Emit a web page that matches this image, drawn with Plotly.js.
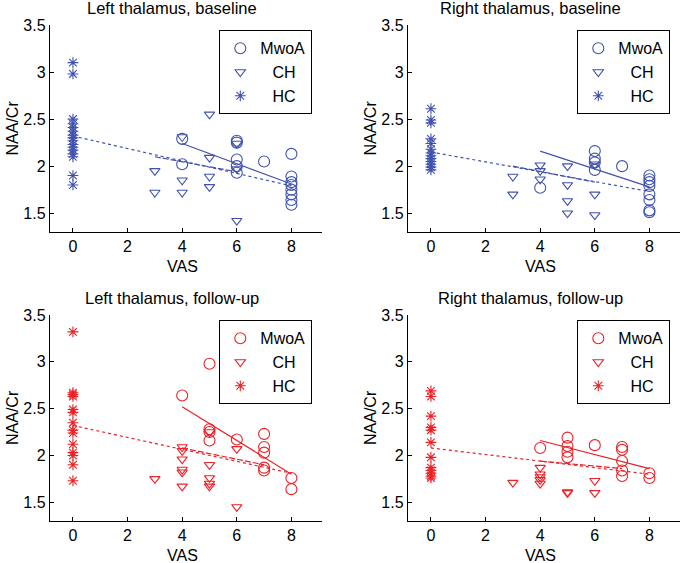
<!DOCTYPE html>
<html>
<head>
<meta charset="utf-8">
<script src="https://cdn.plot.ly/plotly-3.0.1.min.js"></script>
<style>html,body{margin:0;padding:0;background:#fff;}#chart{width:683px;height:563px;}</style>
</head>
<body>
<div id="chart"></div>
<script>
// ---------- data ----------
const vasTicks = [0, 2, 4, 6, 8];
const naaTicks = [1.5, 2, 2.5, 3, 3.5];
const groupNames = ['MwoA', 'CH', 'HC'];
const panelTitles = ['Left thalamus, baseline', 'Right thalamus, baseline', 'Left thalamus, follow-up', 'Right thalamus, follow-up'];

// Left thalamus, baseline
const lbMwoaX = [4, 4, 6, 6, 6, 6, 6, 7, 8, 8, 8, 8, 8, 8, 8, 8];
const lbMwoaY = [2.29, 2.02, 2.27, 2.25, 2.07, 2.00, 1.93, 2.05, 2.13, 1.89, 1.83, 1.80, 1.75, 1.70, 1.64, 1.59];
const lbChX = [3, 3, 4, 4, 4, 5, 5, 5, 5, 6, 6, 6];
const lbChY = [1.95, 1.72, 2.31, 1.85, 1.72, 2.55, 2.09, 1.89, 1.78, 2.24, 1.97, 1.42];
const lbHcX = [0, 0, 0, 0, 0, 0, 0, 0, 0, 0, 0, 0, 0, 0, 0, 0];
const lbHcY = [3.10, 2.98, 2.50, 2.45, 2.41, 2.37, 2.33, 2.30, 2.27, 2.23, 2.20, 2.17, 2.13, 2.10, 1.90, 1.80];
const lbFitAllX = [0, 8], lbFitAllY = [2.32, 1.79];
const lbFitMwoaX = [4, 8], lbFitMwoaY = [2.24, 1.81];
const lbFitChX = [3, 6], lbFitChY = [2.10, 1.94];

// Right thalamus, baseline
const rbMwoaX = [4, 6, 6, 6, 6, 7, 8, 8, 8, 8, 8, 8, 8, 8];
const rbMwoaY = [1.77, 2.16, 2.08, 2.04, 1.96, 2.00, 1.90, 1.86, 1.83, 1.79, 1.70, 1.64, 1.53, 1.51];
const rbChX = [3, 3, 4, 4, 4, 5, 5, 5, 5, 6, 6, 6];
const rbChY = [1.89, 1.70, 2.01, 1.95, 1.86, 2.00, 1.80, 1.63, 1.50, 2.02, 1.70, 1.48];
const rbHcX = [0, 0, 0, 0, 0, 0, 0, 0, 0, 0, 0, 0, 0];
const rbHcY = [2.61, 2.49, 2.46, 2.29, 2.24, 2.18, 2.14, 2.11, 2.08, 2.05, 2.02, 1.99, 1.96];
const rbFitAllX = [0, 8], rbFitAllY = [2.15, 1.73];
const rbFitMwoaX = [4, 8], rbFitMwoaY = [2.16, 1.78];
const rbFitChX = [3, 6], rbFitChY = [2.00, 1.83];

// Left thalamus, follow-up
const lfMwoaX = [4, 5, 5, 5, 5, 6, 7, 7, 7, 7, 7, 8, 8];
const lfMwoaY = [2.64, 2.98, 2.28, 2.25, 2.16, 2.17, 2.23, 2.09, 2.03, 1.87, 1.84, 1.76, 1.64];
const lfChX = [3, 4, 4, 4, 4, 4, 4, 5, 5, 5, 5, 5, 6, 6];
const lfChY = [1.75, 2.09, 2.05, 1.96, 1.85, 1.82, 1.67, 2.25, 1.90, 1.76, 1.70, 1.67, 2.07, 1.45];
const lfHcX = [0, 0, 0, 0, 0, 0, 0, 0, 0, 0, 0, 0, 0, 0];
const lfHcY = [3.32, 2.67, 2.65, 2.63, 2.49, 2.46, 2.35, 2.27, 2.24, 2.12, 2.03, 2.00, 1.90, 1.73];
const lfFitAllX = [0, 8], lfFitAllY = [2.32, 1.81];
const lfFitMwoaX = [4, 8], lfFitMwoaY = [2.52, 1.80];
const lfFitChX = [4, 7], lfFitChY = [2.08, 1.90];

// Right thalamus, follow-up
const rfMwoaX = [4, 5, 5, 5, 5, 6, 7, 7, 7, 7, 7, 8, 8];
const rfMwoaY = [2.08, 2.19, 2.10, 2.04, 1.98, 2.11, 2.09, 2.06, 1.94, 1.84, 1.78, 1.81, 1.76];
const rfChX = [3, 4, 4, 4, 4, 4, 5, 5, 6, 6];
const rfChY = [1.71, 1.87, 1.80, 1.77, 1.74, 1.70, 1.61, 1.60, 1.73, 1.60];
const rfHcX = [0, 0, 0, 0, 0, 0, 0, 0, 0, 0, 0, 0];
const rfHcY = [2.69, 2.63, 2.42, 2.30, 2.27, 2.14, 1.98, 1.87, 1.84, 1.81, 1.78, 1.76];
const rfFitAllX = [0, 8], rfFitAllY = [2.08, 1.80];
const rfFitMwoaX = [4, 8], rfFitMwoaY = [2.16, 1.86];
const rfFitChX = [4, 7], rfFitChY = [1.94, 1.86];

// ---------- build ----------
const BLUE = '#4052ad';
const RED = '#ec2026';
const FONT = 'Liberation Sans, Arial, sans-serif';
// legend labels are centred in the reference box: pad the short ones
const legendPad = ['', '\u00A0\u00A0\u2009', '\u00A0\u00A0\u2009'];

const panels = [
  {ax: '', color: BLUE, mx: lbMwoaX, my: lbMwoaY, cx: lbChX, cy: lbChY, hx: lbHcX, hy: lbHcY,
   fa: [lbFitAllX, lbFitAllY], fm: [lbFitMwoaX, lbFitMwoaY], fc: [lbFitChX, lbFitChY]},
  {ax: '2', color: BLUE, mx: rbMwoaX, my: rbMwoaY, cx: rbChX, cy: rbChY, hx: rbHcX, hy: rbHcY,
   fa: [rbFitAllX, rbFitAllY], fm: [rbFitMwoaX, rbFitMwoaY], fc: [rbFitChX, rbFitChY]},
  {ax: '3', color: RED, mx: lfMwoaX, my: lfMwoaY, cx: lfChX, cy: lfChY, hx: lfHcX, hy: lfHcY,
   fa: [lfFitAllX, lfFitAllY], fm: [lfFitMwoaX, lfFitMwoaY], fc: [lfFitChX, lfFitChY]},
  {ax: '4', color: RED, mx: rfMwoaX, my: rfMwoaY, cx: rfChX, cy: rfChY, hx: rfHcX, hy: rfHcY,
   fa: [rfFitAllX, rfFitAllY], fm: [rfFitMwoaX, rfFitMwoaY], fc: [rfFitChX, rfFitChY]}
];

const W = 683, H = 563;
// pixel boxes of each plot area [left, right, top, bottom]
const boxes = [[50, 322, 25, 232], [408, 680, 25, 232], [50, 322, 315, 521], [408, 680, 315, 521]];

const traces = [];
const layout = {
  width: W, height: H,
  margin: {l: 0, r: 0, t: 0, b: 0},
  paper_bgcolor: '#fff', plot_bgcolor: '#fff',
  font: {family: FONT, size: 16, color: '#000'},
  showlegend: true,
  annotations: []
};

panels.forEach((p, i) => {
  const xa = 'x' + p.ax, ya = 'y' + p.ax;
  const lg = i === 0 ? 'legend' : 'legend' + (i + 1);
  const b = boxes[i];
  const common = {xaxis: xa, yaxis: ya, hoverinfo: 'x+y'};
  // fit lines
  traces.push(Object.assign({type: 'scatter', mode: 'lines', x: p.fa[0], y: p.fa[1], showlegend: false,
    line: {color: p.color, width: 1.2, dash: 'dot'}}, common));
  traces.push(Object.assign({type: 'scatter', mode: 'lines', x: p.fm[0], y: p.fm[1], showlegend: false,
    line: {color: p.color, width: 1.2}}, common));
  traces.push(Object.assign({type: 'scatter', mode: 'lines', x: p.fc[0], y: p.fc[1], showlegend: false,
    line: {color: p.color, width: 1.2, dash: '6px,2px'}}, common));
  // markers
  traces.push(Object.assign({type: 'scatter', mode: 'markers', name: legendPad[0] + groupNames[0], legend: lg, x: p.mx, y: p.my,
    marker: {symbol: 'circle-open', size: 11, color: p.color, line: {color: p.color, width: 1.1}}}, common));
  traces.push(Object.assign({type: 'scatter', mode: 'markers', name: legendPad[1] + groupNames[1], legend: lg, x: p.cx, y: p.cy,
    marker: {symbol: 'triangle-down-open', size: 9, color: p.color, line: {color: p.color, width: 1.1}}}, common));
  traces.push(Object.assign({type: 'scatter', mode: 'markers', name: legendPad[2] + groupNames[2], legend: lg, x: p.hx, y: p.hy,
    marker: {symbol: 'asterisk-open', size: 9, color: p.color, line: {color: p.color, width: 1.1}}}, common));

  const axKey = p.ax;
  layout['xaxis' + axKey] = {
    domain: [b[0] / W, b[1] / W], anchor: ya, range: [-0.84, 9.12],
    tickvals: vasTicks, ticktext: vasTicks.map(String),
    showline: true, linecolor: '#000', linewidth: 1.2, mirror: false,
    ticks: 'inside', ticklen: 4, tickwidth: 1, tickcolor: '#000',
    showgrid: false, zeroline: false, tickfont: {family: FONT, size: 16, color: '#000'}
  };
  layout['yaxis' + axKey] = {
    domain: [1 - b[3] / H, 1 - b[2] / H], anchor: xa, range: [1.3, 3.5],
    tickvals: naaTicks, ticktext: naaTicks.map(String),
    showline: true, linecolor: '#000', linewidth: 1.2, mirror: false,
    ticks: 'inside', ticklen: 4, tickwidth: 1, tickcolor: '#000',
    showgrid: false, zeroline: false, tickfont: {family: FONT, size: 16, color: '#000'}
  };
  layout[lg] = {
    x: (b[1] - 103) / W, y: 1 - (b[2] + 5) / H, xanchor: 'left', yanchor: 'top',
    bordercolor: '#000', borderwidth: 1.3, bgcolor: '#fff',
    font: {family: FONT, size: 16, color: '#000'}, tracegroupgap: 0, itemwidth: 30
  };
  const cx = (b[0] + b[1]) / 2 - 14;
  layout.annotations.push({text: panelTitles[i], xref: 'paper', yref: 'paper', x: cx / W, y: 1 - (b[2] - 17) / H,
    xanchor: 'center', yanchor: 'middle', showarrow: false, font: {family: FONT, size: 16.5, color: '#000'}});
  layout.annotations.push({text: 'VAS', xref: 'paper', yref: 'paper', x: (cx + 10) / W, y: 1 - (b[3] + 34) / H,
    xanchor: 'center', yanchor: 'middle', showarrow: false, font: {family: FONT, size: 16, color: '#000'}});
  layout.annotations.push({text: 'NAA/Cr', xref: 'paper', yref: 'paper', x: (b[0] - 38) / W, y: 1 - ((b[2] + b[3]) / 2) / H,
    xanchor: 'center', yanchor: 'middle', textangle: -90, showarrow: false, font: {family: FONT, size: 16, color: '#000'}});
});

Plotly.newPlot('chart', traces, layout, {displayModeBar: false, staticPlot: true});
</script>
</body>
</html>
